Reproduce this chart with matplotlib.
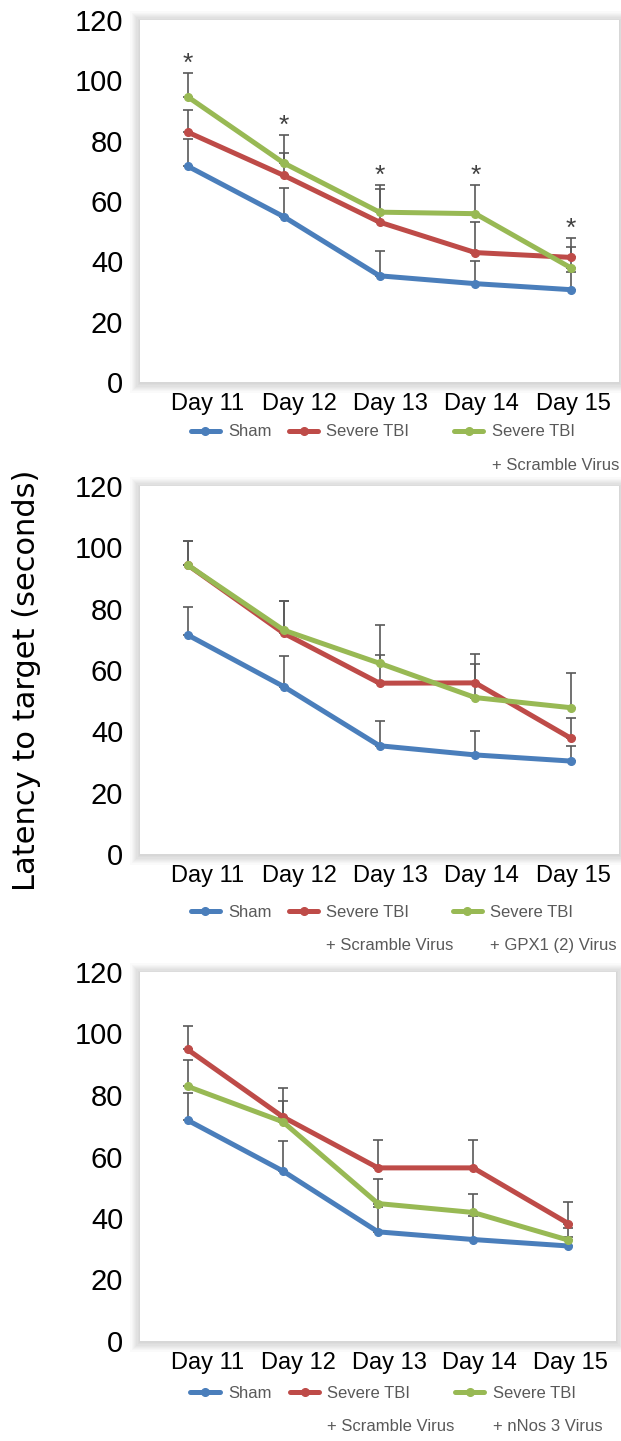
import matplotlib
matplotlib.use("Agg")
import matplotlib.pyplot as plt
from matplotlib.legend import Legend
from matplotlib.patches import Rectangle
import numpy as np

days = ["Day 11", "Day 12", "Day 13", "Day 14", "Day 15"]

# panel 1: sham vs severe TBI vs severe TBI + scramble virus
p1_sham = [71.5, 54.8, 35.2, 32.6, 30.6]
p1_sham_err = [9.0, 9.6, 8.2, 7.6, 6.0]
p1_tbi = [82.8, 68.5, 53.0, 42.9, 41.3]
p1_tbi_err = [7.4, 7.4, 10.9, 10.0, 6.6]
p1_scr = [94.5, 72.6, 56.3, 55.8, 37.8]
p1_scr_err = [7.8, 9.4, 9.1, 9.4, 6.9]
p1_labels = ["Sham", "Severe TBI", "Severe TBI\n+ Scramble Virus"]

# panel 2: sham vs TBI + scramble vs TBI + GPX1 (2)
p2_sham = [71.4, 54.6, 35.3, 32.3, 30.3]
p2_sham_err = [9.0, 10.0, 8.2, 7.9, 5.0]
p2_scr = [94.2, 72.0, 55.7, 55.8, 37.7]
p2_scr_err = [8.0, 10.6, 9.3, 9.4, 6.8]
p2_gpx = [94.2, 73.0, 62.2, 51.0, 47.7]
p2_gpx_err = [8.0, 9.6, 12.6, 10.8, 11.2]
p2_labels = ["Sham", "Severe TBI\n+ Scramble Virus", "Severe TBI\n+ GPX1 (2) Virus"]

# panel 3: sham vs TBI + scramble vs TBI + nNos 3
p3_sham = [71.8, 55.3, 35.5, 33.0, 30.9]
p3_sham_err = [9.0, 9.7, 8.0, 7.5, 3.0]
p3_scr = [94.8, 72.9, 56.3, 56.3, 38.2]
p3_scr_err = [7.5, 9.4, 9.2, 9.2, 6.9]
p3_nos = [82.8, 71.3, 44.7, 41.8, 32.8]
p3_nos_err = [8.7, 6.7, 7.9, 6.0, 4.0]
p3_labels = ["Sham", "Severe TBI\n+ Scramble Virus", "Severe TBI\n+ nNos 3 Virus"]

colors = ["#4a7ebb", "#be4b48", "#98b954"]
err_color = "#595959"
legend_color = "#595959"
font = "Liberation Sans"

W, H = 621, 1441
fig = plt.figure(figsize=(W / 100, H / 100), dpi=100)
fig.patch.set_facecolor("white")

# axes boxes in pixels: left, top, right, bottom
boxes = [(140, 20, 619, 382), (140, 486, 619, 854), (140, 972, 616, 1341)]
legend_y = [-0.138, -0.158, -0.141]
legend_x = [[0.106, 0.311, 0.656], [0.106, 0.311, 0.653], [0.106, 0.315, 0.662]]
# category labels drift slightly right of their points
label_shift = np.linspace(0.21, 0.02, len(days))

panels = [
    ([p1_sham, p1_tbi, p1_scr], [p1_sham_err, p1_tbi_err, p1_scr_err], p1_labels),
    ([p2_sham, p2_scr, p2_gpx], [p2_sham_err, p2_scr_err, p2_gpx_err], p2_labels),
    ([p3_sham, p3_scr, p3_nos], [p3_sham_err, p3_scr_err, p3_nos_err], p3_labels),
]

x = np.arange(len(days))

for i, ((series, errs, labels), (l, t, r, b)) in enumerate(zip(panels, boxes)):
    # soft drop shadow behind the plot area
    for k in range(8):
        pad = 1.2 * (k + 1)
        fig.patches.append(Rectangle(((l - pad) / W, 1 - (b + pad + 1) / H),
                                     (r - l + 2 * pad) / W, (b - t + 2 * pad) / H,
                                     transform=fig.transFigure, facecolor="black",
                                     edgecolor="none", alpha=0.02, zorder=0))
    ax = fig.add_axes([l / W, 1 - b / H, (r - l) / W, (b - t) / H])
    ax.set_facecolor("white")
    ax.set_zorder(1)
    for sp in ax.spines.values():
        sp.set_visible(False)

    handles = []
    for s, e, c in zip(series, errs, colors):
        s = np.array(s)
        e = np.array(e)
        ax.errorbar(x, s, yerr=[np.zeros_like(e), e], fmt="none", ecolor=err_color,
                    elinewidth=1.2, capsize=3.5, capthick=1.2, zorder=2)
        h, = ax.plot(x, s, color=c, lw=3.6, marker="o", markersize=5.5,
                     solid_capstyle="round", zorder=3)
        handles.append(h)

    ax.set_xlim(-0.5, len(days) - 0.5)
    ax.set_ylim(0, 120)
    ax.set_yticks(range(0, 121, 20))
    ax.set_xticks(x + label_shift)
    ax.set_xticklabels(days)
    ax.tick_params(axis="both", length=0)
    ax.tick_params(axis="y", labelsize=21, pad=12)
    ax.tick_params(axis="x", labelsize=17, pad=8)
    for lab in ax.get_xticklabels() + ax.get_yticklabels():
        lab.set_fontfamily(font)

    # one legend per entry so each column sits where it should;
    # the second line of a label is hung under the first
    for j, (h, lab) in enumerate(zip(handles, labels)):
        first, *rest = lab.split("\n")
        leg = Legend(ax, [h], [first], loc="center left",
                     bbox_to_anchor=(legend_x[i][j], legend_y[i]),
                     frameon=False, borderpad=0, borderaxespad=0,
                     handlelength=1.75, handletextpad=0.5,
                     prop={"family": font, "size": 12}, labelcolor=legend_color)
        leg.set_clip_on(False)
        ax.add_artist(leg)
        if rest:
            ax.annotate(rest[0], xy=(0, 0.5), xycoords=leg.get_texts()[0],
                        xytext=(0, -24), textcoords="offset points",
                        ha="left", va="center", fontsize=12, family=font,
                        color=legend_color, annotation_clip=False, zorder=6)

    # significance markers on the first panel
    if i == 0:
        tops = np.max(np.array(series) + np.array(errs), axis=0)
        for xi, yt in zip(x, tops):
            ax.annotate("*", xy=(xi, yt), xytext=(0, 1.5), textcoords="offset points",
                        ha="center", va="baseline", fontsize=19, color="#404040",
                        family=font)

fig.text(27 / W, 1 - 680 / H, "Latency to target (seconds)", rotation=90,
         ha="center", va="center", fontsize=22, family="DejaVu Sans", color="black")

fig.savefig("out.png", dpi=100, facecolor="white")
